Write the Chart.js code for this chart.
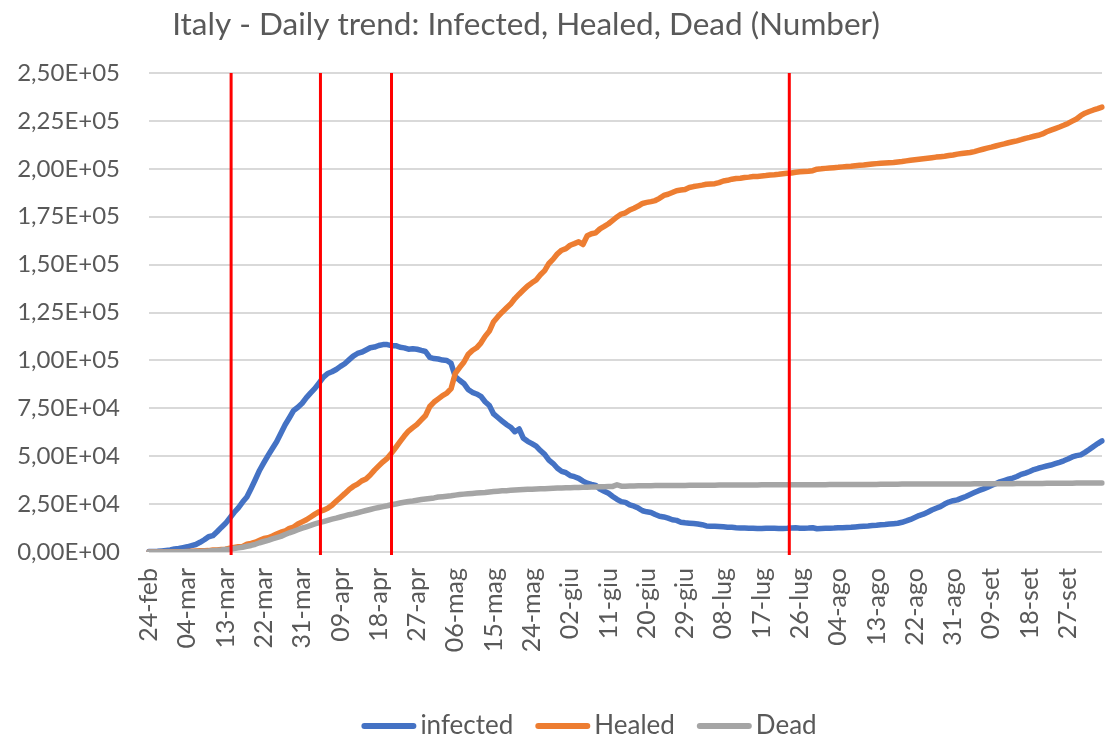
<!DOCTYPE html>
<html>
<head>
<meta charset="utf-8">
<script src="https://cdn.jsdelivr.net/npm/chart.js@4.4.1/dist/chart.umd.min.js"></script>
<style>
html,body{margin:0;padding:0;background:#ffffff;}
#wrap{width:1112px;height:742px;}
</style>
</head>
<body>
<div id="wrap"><canvas id="c" width="1112" height="742"></canvas></div>
<script>
// ---------- DATA ----------
const chartTitle = 'Italy - Daily trend: Infected, Healed, Dead (Number)';
const seriesNames = ['infected', 'Healed', 'Dead'];
const monthNames = ['gen','feb','mar','apr','mag','giu','lug','ago','set','ott','nov','dic'];
const firstDay = { year: 2020, month: 1, day: 24 }; // 24-feb-2020
const labelEvery = 9;
const yTickMin = 0, yTickMax = 250000, yTickStep = 25000;
// category positions (day index from 24-feb) of the red event lines
const eventDays = [19.3, 40.3, 57, 150.5];

const infected = [
  221, 311, 385, 588, 821, 1049, 1577, 1835, 2263, 2706,
  3296, 3916, 5061, 6387, 7985, 8514, 10590, 12839, 14955, 17750,
  20603, 23073, 26062, 28710, 33190, 37860, 42681, 46638, 50418, 54030,
  57521, 62013, 66414, 70065, 73880, 75528, 77635, 80572, 83049, 85388,
  88274, 91246, 93187, 94067, 95262, 96877, 98273, 100269, 102253, 103616,
  104291, 105418, 106607, 106962, 107771, 108257, 108237, 107709, 107699, 106848,
  106527, 105847, 106103, 105813, 105205, 104657, 101551, 100943, 100704, 100179,
  99980, 98467, 91528, 89624, 87961, 84842, 83324, 82488, 81266, 78457,
  76440, 72070, 70187, 68351, 66553, 65129, 62752, 64200, 59322, 57752,
  56594, 55300, 52942, 50966, 47986, 46175, 43691, 42075, 41367, 39893,
  39297, 38429, 36976, 35877, 35262, 34730, 32872, 31710, 30637, 28997,
  27485, 26274, 25909, 24569, 23925, 22909, 21543, 20972, 20637, 19573,
  18655, 18303, 17638, 16836, 16496, 15563, 15255, 15060, 14884, 14621,
  14242, 13595, 13459, 13428, 13303, 13179, 12919, 12890, 12694, 12565,
  12493, 12404, 12456, 12322, 12248, 12442, 12456, 12368, 12303, 12301,
  12404, 12581, 12616, 12442, 12456, 12482, 12646, 12150, 12300, 12368,
  12456, 12474, 12616, 12693, 12800, 12924, 13100, 13300, 13450, 13600,
  13800, 14000, 14250, 14400, 14600, 14800, 15000, 15500, 16200, 17000,
  18000, 19000, 19714, 20753, 21932, 22848, 23690, 25010, 26080, 26754,
  27200, 28100, 29000, 30000, 31000, 32000, 32800, 33700, 34700, 35600,
  36600, 37300, 38000, 38600, 39400, 40500, 41200, 42000, 43000, 43700,
  44300, 44900, 45400, 46100, 46800, 47600, 48500, 49600, 50300, 50700,
  52000, 53500, 55100, 56600, 58000
];

const healed = [
  1, 1, 3, 45, 46, 50, 83, 149, 160, 276,
  414, 523, 589, 622, 724, 1004, 1045, 1258, 1439, 1966,
  2335, 2749, 2941, 4025, 4440, 5129, 6072, 7024, 7432, 8326,
  9362, 10361, 10950, 12384, 13030, 14620, 15729, 16847, 18278, 19758,
  20996, 21815, 22837, 24392, 26491, 28470, 30455, 32534, 34211, 35435,
  37130, 38092, 40164, 42727, 44927, 47055, 48877, 51600, 54543, 57576,
  60498, 63120, 64928, 66624, 68941, 71252, 75945, 78249, 79914, 81654,
  82879, 85231, 93245, 96276, 99023, 103031, 105186, 106587, 109039, 112541,
  115288, 120205, 122810, 125176, 127326, 129401, 132282, 134560, 136720, 138840,
  140479, 141981, 144658, 146839, 150604, 152844, 155633, 157507, 158355, 160092,
  160938, 161895, 160500, 165078, 166100, 166584, 168646, 169939, 171338, 173085,
  174865, 176370, 177010, 178526, 179455, 180544, 181907, 182453, 182893, 183426,
  184585, 186111, 186725, 187615, 188584, 188891, 189196, 190248, 190717, 191083,
  191467, 191944, 192108, 192241, 192815, 193640, 193978, 194579, 194928, 195106,
  195441, 195661, 195945, 196016, 196246, 196483, 196806, 196949, 197162, 197431,
  197628, 197842, 198192, 198446, 198593, 198756, 199031, 199796, 199974, 200229,
  200460, 200589, 200766, 201000, 201200, 201323, 201642, 201800, 201947, 202248,
  202500, 202697, 202923, 203040, 203200, 203326, 203600, 203786, 204142, 204506,
  204726, 204960, 205203, 205470, 205773, 206102, 206329, 206554, 206902, 207189,
  207653, 207944, 208224, 208490, 209000, 209600, 210200, 210800, 211300, 211900,
  212500, 213000, 213600, 214100, 214600, 215200, 215900, 216400, 217000, 217500,
  218200, 219300, 220200, 221000, 221800, 222700, 223700, 224900, 226000, 227700,
  229000, 229900, 230700, 231400, 232200
];

const dead = [
  7, 10, 12, 17, 21, 29, 34, 52, 79, 107,
  148, 197, 233, 366, 463, 631, 827, 1016, 1266, 1441,
  1809, 2158, 2503, 2978, 3405, 4032, 4825, 5476, 6077, 6820,
  7503, 8165, 9134, 10023, 10779, 11591, 12428, 13155, 13915, 14681,
  15362, 15887, 16523, 17127, 17669, 18279, 18849, 19468, 19899, 20465,
  21067, 21645, 22170, 22745, 23227, 23660, 24114, 24648, 25085, 25549,
  25969, 26384, 26644, 26977, 27359, 27682, 27967, 28236, 28710, 28884,
  29079, 29315, 29684, 29958, 30201, 30395, 30560, 30739, 30911, 31106,
  31368, 31610, 31763, 31908, 32007, 32169, 32330, 32486, 32616, 32735,
  32785, 32877, 32955, 33072, 33142, 33229, 33340, 33415, 33475, 33530,
  33601, 33689, 33774, 33846, 33899, 33964, 34043, 34114, 34167, 34223,
  35100, 34345, 34371, 34405, 34448, 34514, 34561, 34610, 34634, 34657,
  34675, 34678, 34708, 34716, 34738, 34744, 34767, 34788, 34818, 34833,
  34854, 34861, 34869, 34899, 34914, 34926, 34938, 34945, 34954, 34967,
  34984, 34997, 35017, 35028, 35042, 35045, 35058, 35073, 35082, 35092,
  35097, 35102, 35107, 35112, 35123, 35129, 35132, 35141, 35146, 35154,
  35166, 35171, 35181, 35187, 35190, 35203, 35205, 35209, 35215, 35225,
  35231, 35234, 35392, 35400, 35405, 35412, 35418, 35427, 35430, 35437,
  35445, 35458, 35463, 35472, 35477, 35483, 35491, 35497, 35507, 35518,
  35525, 35534, 35541, 35553, 35563, 35577, 35587, 35597, 35607, 35624,
  35635, 35645, 35658, 35668, 35692, 35707, 35724, 35738, 35758, 35781,
  35801, 35818, 35835, 35851, 35875, 35883, 35918, 35941, 35968, 35986,
  35986, 35994, 35998, 36000, 36002
];

// ---------- BUILD ----------
const categories = infected.map((_, i) => {
  const d = new Date(firstDay.year, firstDay.month, firstDay.day + i);
  return String(d.getDate()).padStart(2, '0') + '-' + monthNames[d.getMonth()];
});

function sciLabel(v) {
  if (v === 0) return '0,00E+00';
  const e = Math.floor(Math.log10(v) + 1e-9);
  const m = v / Math.pow(10, e);
  return m.toFixed(2).replace('.', ',') + 'E+' + String(e).padStart(2, '0');
}

const FONT = 'Lato, "Open Sans", sans-serif';
const TEXT = '#595959';
const GRID = '#d9d9d9';
const COLORS = ['#4472C4', '#ED7D31', '#A5A5A5'];
const TITLE_DX = -25;
const LEGEND_CX = 589, LEGEND_Y = 726, LEGEND_LINE = 55, LEGEND_GAP = 4, LEGEND_SEP = 22;

Chart.defaults.font.family = FONT;

const eventLines = {
  id: 'eventLines',
  afterDatasetsDraw(chart) {
    const { ctx, chartArea, scales } = chart;
    ctx.save();
    ctx.strokeStyle = '#FF0000';
    ctx.lineWidth = 3;
    eventDays.forEach(d => {
      const px = scales.x.getPixelForValue(d);
      ctx.beginPath();
      ctx.moveTo(px, chartArea.top);
      ctx.lineTo(px, chartArea.bottom + 3);
      ctx.stroke();
    });
    ctx.restore();
  }
};

const shiftTitle = {
  id: 'shiftTitle',
  afterLayout(chart) {
    const t = chart.titleBlock;
    if (t) { t.left += TITLE_DX; t.right += TITLE_DX; }
  }
};

const lineLegend = {
  id: 'lineLegend',
  afterDraw(chart) {
    const ctx = chart.ctx;
    ctx.save();
    ctx.font = '26px ' + FONT;
    ctx.textBaseline = 'middle';
    ctx.textAlign = 'left';
    const items = chart.data.datasets.map(ds => ({ text: ds.label, color: ds.borderColor, w: ctx.measureText(ds.label).width }));
    const total = items.reduce((s, it) => s + LEGEND_LINE + LEGEND_GAP + it.w, 0) + LEGEND_SEP * (items.length - 1);
    let x = LEGEND_CX - total / 2;
    items.forEach(it => {
      ctx.strokeStyle = it.color;
      ctx.lineWidth = 6;
      ctx.lineCap = 'round';
      ctx.beginPath();
      ctx.moveTo(x + 3, LEGEND_Y);
      ctx.lineTo(x + LEGEND_LINE - 3, LEGEND_Y);
      ctx.stroke();
      ctx.fillStyle = TEXT;
      ctx.fillText(it.text, x + LEGEND_LINE + LEGEND_GAP, LEGEND_Y);
      x += LEGEND_LINE + LEGEND_GAP + it.w + LEGEND_SEP;
    });
    ctx.restore();
  }
};

const seriesData = [infected, healed, dead];
const datasets = seriesData.map((arr, k) => ({
  label: seriesNames[k],
  data: arr,
  borderColor: COLORS[k],
  backgroundColor: COLORS[k],
  borderWidth: 5.5,
  pointRadius: 0,
  pointHoverRadius: 0,
  tension: 0,
  borderJoinStyle: 'round',
  borderCapStyle: 'round',
  fill: false,
  order: 3 - k
}));

new Chart(document.getElementById('c'), {
  type: 'line',
  data: { labels: categories, datasets },
  options: {
    responsive: false,
    animation: false,
    devicePixelRatio: 1,
    layout: { padding: { left: 0, right: 10, top: 0, bottom: 0 } },
    plugins: {
      title: {
        display: true,
        text: chartTitle,
        color: TEXT,
        font: { size: 31.5, weight: 'normal' },
        padding: { top: 6.1, bottom: 29.1 }
      },
      legend: { display: false },
      tooltip: { enabled: false }
    },
    scales: {
      x: {
        type: 'category',
        offset: false,
        grid: { display: false, drawTicks: false },
        border: { display: false },
        ticks: {
          autoSkip: false,
          minRotation: 90,
          maxRotation: 90,
          padding: 16,
          color: TEXT,
          font: { size: 25 },
          callback: (v, i) => (i % labelEvery === 0 ? categories[i] : '')
        },
        afterFit(s) { s.height = 190; s.paddingLeft = 0; s.paddingRight = 0; }
      },
      y: {
        min: yTickMin,
        max: yTickMax,
        grid: { color: GRID, lineWidth: 2, drawTicks: false },
        border: { display: false },
        ticks: {
          stepSize: yTickStep,
          padding: 29,
          color: TEXT,
          font: { size: 24 },
          callback: (v) => sciLabel(v)
        },
        afterFit(s) { s.width = 149; }
      }
    }
  },
  plugins: [eventLines, shiftTitle, lineLegend]
});
</script>
</body>
</html>
